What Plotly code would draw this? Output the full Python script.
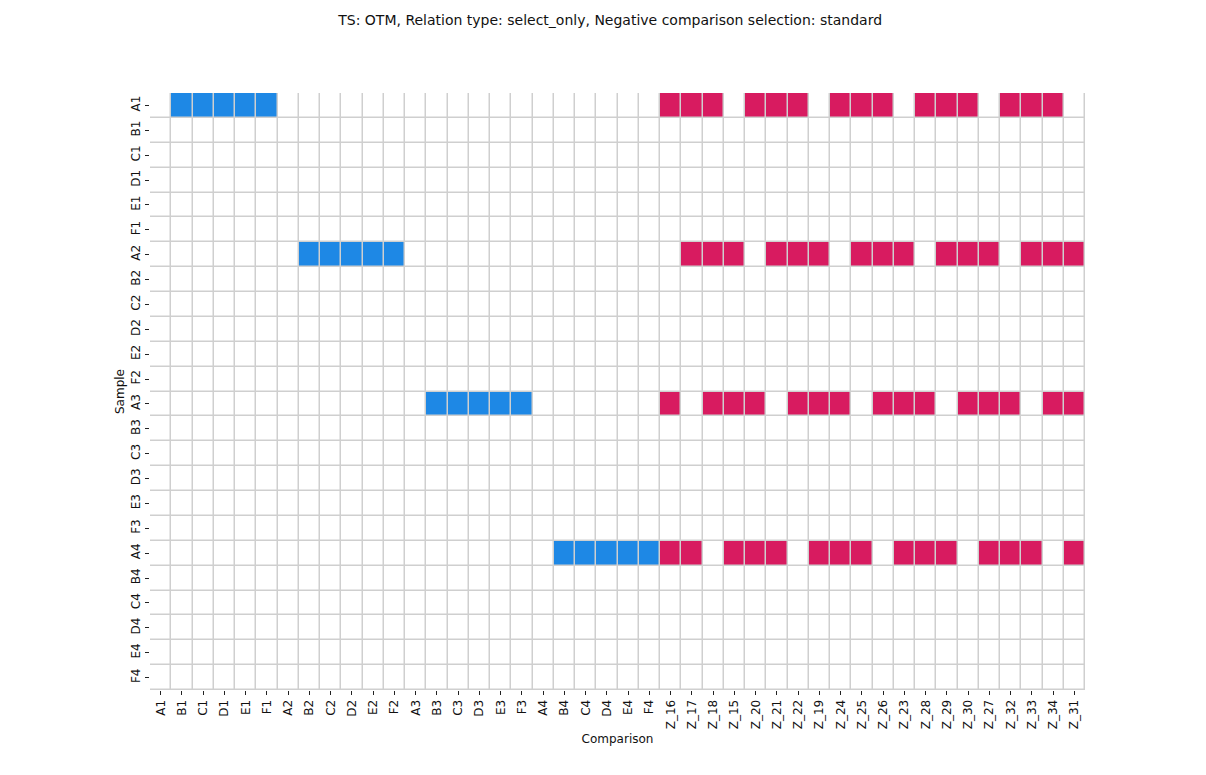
"""Heatmap of positive / negative comparison selection per sample."""

from plotly import graph_objects as go

samples = [f"{l}{n}" for n in range(1, 5) for l in "ABCDEF"]
z_labels = [
    "Z_16", "Z_17", "Z_18", "Z_15",
    "Z_20", "Z_21", "Z_22", "Z_19",
    "Z_24", "Z_25", "Z_26", "Z_23",
    "Z_28", "Z_29", "Z_30", "Z_27",
    "Z_32", "Z_33", "Z_34", "Z_31",
]
comparisons = samples + z_labels

anchors = ["A1", "A2", "A3", "A4"]
positives = [
    ["B1", "C1", "D1", "E1", "F1"],
    ["B2", "C2", "D2", "E2", "F2"],
    ["B3", "C3", "D3", "E3", "F3"],
    ["B4", "C4", "D4", "E4", "F4"],
]
# Z comparisons left out for each anchor (the rest are negatives)
skipped = [
    ["Z_15", "Z_19", "Z_23", "Z_27", "Z_31"],
    ["Z_16", "Z_20", "Z_24", "Z_28", "Z_32"],
    ["Z_17", "Z_21", "Z_25", "Z_29", "Z_33"],
    ["Z_18", "Z_22", "Z_26", "Z_30", "Z_34"],
]

title = "TS: OTM, Relation type: select_only, Negative comparison selection: standard"

z = [[0] * len(comparisons) for _ in samples]
for anchor, pos, skip in zip(anchors, positives, skipped):
    row = z[samples.index(anchor)]
    for c in pos:
        row[comparisons.index(c)] = 1
    for c in z_labels:
        if c not in skip:
            row[comparisons.index(c)] = -1

red = "#D81B60"
blue = "#1E88E5"

fig = go.Figure(
    go.Heatmap(
        z=z,
        x=comparisons,
        y=samples,
        zmin=-1,
        zmax=1,
        colorscale=[
            [0, red], [0.33, red],
            [0.34, "white"], [0.66, "white"],
            [0.67, blue], [1, blue],
        ],
        showscale=False,
        xgap=1.5,
        ygap=1.5,
        hoverongaps=False,
    )
)

# page body has an 8px margin, so the figure is sized to fit inside the window
font = dict(family="DejaVu Sans", size=12, color="#111")
fig.update_layout(
    width=1190,
    height=759,
    margin={"l": 142, "r": 113, "t": 85, "b": 77},
    paper_bgcolor="white",
    plot_bgcolor="#cfcfcf",
    font=font,
    title={
        "text": title,
        "x": 0.506,
        "xanchor": "center",
        "y": 0.984,
        "yanchor": "middle",
        "automargin": False,
        "font": {"family": "DejaVu Sans", "size": 14, "color": "#111"},
    },
)
fig.update_xaxes(
    title={"text": "Comparison", "font": {"size": 12}, "standoff": 6},
    automargin=False,
    tickangle=-90,
    ticks="outside",
    ticklen=4,
    tickcolor="#222",
    showgrid=False,
    zeroline=False,
    showline=False,
    tickfont={"size": 12},
)
fig.update_yaxes(
    title={"text": "Sample", "font": {"size": 12}, "standoff": 2},
    automargin=False,
    autorange="reversed",
    tickangle=-90,
    ticks="outside",
    ticklen=4,
    tickcolor="#222",
    showgrid=False,
    zeroline=False,
    showline=False,
    tickfont={"size": 12},
)

fig.write_html("out.html")
